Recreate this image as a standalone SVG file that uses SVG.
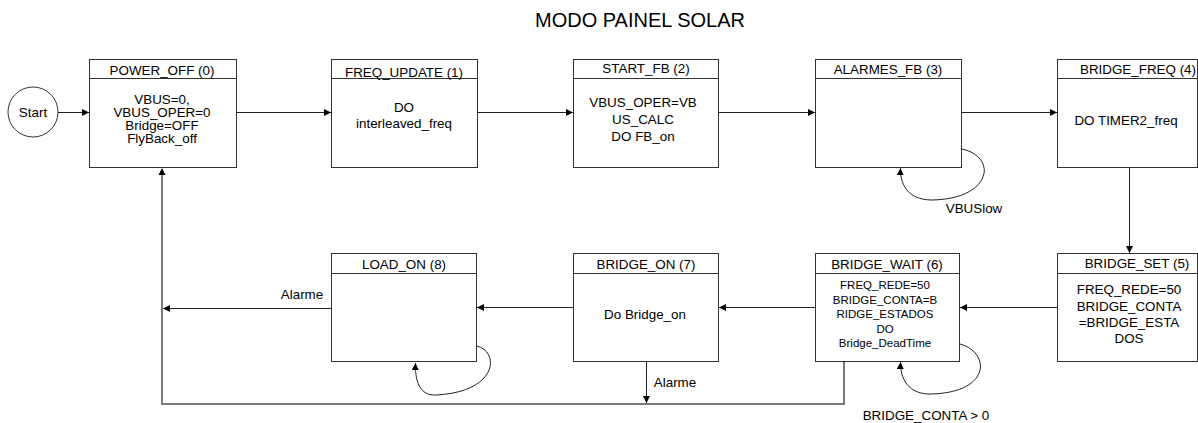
<svg xmlns="http://www.w3.org/2000/svg" width="1198" height="423" viewBox="0 0 1198 423">
<style>
text{font-family:"Liberation Sans",Arial,sans-serif;font-size:13.4px;fill:#000;text-anchor:middle}
.title{font-size:20px}
.small{font-size:11.5px}
.box{fill:#fff;stroke:#333;stroke-width:1}
.hdr{stroke:#333;stroke-width:1}
.ln{fill:none;stroke:#222;stroke-width:1}
.ret{fill:none;stroke:#7a7a7a;stroke-width:2}
</style>
<defs>
<marker id="ah" markerUnits="userSpaceOnUse" markerWidth="8" markerHeight="8" refX="7" refY="3.5" orient="auto">
<path d="M0,0 L7,3.5 L0,7 z" fill="#000"/>
</marker>
</defs>
<text class="title" x="640" y="27">MODO PAINEL SOLAR</text>

<g id="start">
<circle cx="33" cy="112" r="25" fill="#fff" stroke="#333"/>
<text x="33" y="117">Start</text>
</g>

<g id="power_off">
<rect class="box" x="89.5" y="59.5" width="147" height="108"/>
<line class="hdr" x1="89.5" y1="78.5" x2="236.5" y2="78.5"/>
<text x="162" y="75">POWER_OFF (0)</text>
<text x="162" y="104">VBUS=0,</text>
<text x="162" y="117">VBUS_OPER=0</text>
<text x="162" y="130">Bridge=OFF</text>
<text x="162" y="143">FlyBack_off</text>
</g>

<g id="freq_update">
<rect class="box" x="331.5" y="59.5" width="146" height="108"/>
<line class="hdr" x1="331.5" y1="78.5" x2="477.5" y2="78.5"/>
<text x="404" y="77">FREQ_UPDATE (1)</text>
<text x="404" y="112">DO</text>
<text x="404" y="128">interleaved_freq</text>
</g>

<g id="start_fb">
<rect class="box" x="573.5" y="59.5" width="145" height="108"/>
<line class="hdr" x1="573.5" y1="78.5" x2="718.5" y2="78.5"/>
<text x="646" y="73">START_FB (2)</text>
<text x="643" y="107">VBUS_OPER=VB</text>
<text x="643" y="124">US_CALC</text>
<text x="643" y="141">DO FB_on</text>
</g>

<g id="alarmes_fb">
<rect class="box" x="815.5" y="59.5" width="146" height="108"/>
<line class="hdr" x1="815.5" y1="78.5" x2="961.5" y2="78.5"/>
<text x="888" y="74">ALARMES_FB (3)</text>
</g>

<g id="bridge_freq">
<rect class="box" x="1057.5" y="59.5" width="140" height="108"/>
<line class="hdr" x1="1057.5" y1="78.5" x2="1197.5" y2="78.5"/>
<text x="1138" y="74">BRIDGE_FREQ (4)</text>
<text x="1126" y="125">DO TIMER2_freq</text>
</g>

<g id="bridge_set">
<rect class="box" x="1057.5" y="253.5" width="140" height="108"/>
<line class="hdr" x1="1057.5" y1="273.5" x2="1197.5" y2="273.5"/>
<text x="1137" y="268">BRIDGE_SET (5)</text>
<text x="1129" y="294">FREQ_REDE=50</text>
<text x="1129" y="311">BRIDGE_CONTA</text>
<text x="1129" y="327">=BRIDGE_ESTA</text>
<text x="1129" y="343">DOS</text>
</g>

<g id="bridge_wait">
<rect class="box" x="815.5" y="253.5" width="144" height="108"/>
<line class="hdr" x1="815.5" y1="273.5" x2="959.5" y2="273.5"/>
<text x="887" y="269">BRIDGE_WAIT (6)</text>
<text class="small" x="885" y="289">FREQ_REDE=50</text>
<text class="small" x="885" y="304">BRIDGE_CONTA=B</text>
<text class="small" x="885" y="318">RIDGE_ESTADOS</text>
<text class="small" x="885" y="333">DO</text>
<text class="small" x="885" y="347">Bridge_DeadTime</text>
</g>

<g id="bridge_on">
<rect class="box" x="573.5" y="253.5" width="145" height="108"/>
<line class="hdr" x1="573.5" y1="273.5" x2="718.5" y2="273.5"/>
<text x="646" y="269">BRIDGE_ON (7)</text>
<text x="645" y="319">Do Bridge_on</text>
</g>

<g id="load_on">
<rect class="box" x="331.5" y="253.5" width="145" height="108"/>
<line class="hdr" x1="331.5" y1="273.5" x2="476.5" y2="273.5"/>
<text x="404" y="269">LOAD_ON (8)</text>
</g>

<g id="connectors">
<path class="ret" d="M844,362 V404 H162 V170"/>
<path d="M162,168 L158.5,175 L165.5,175 z" fill="#000"/>
<path class="ln" d="M58,112.5 H89" marker-end="url(#ah)"/>
<path class="ln" d="M237,112.5 H331" marker-end="url(#ah)"/>
<path class="ln" d="M478,112.5 H573" marker-end="url(#ah)"/>
<path class="ln" d="M719,112.5 H815" marker-end="url(#ah)"/>
<path class="ln" d="M962,112.5 H1057" marker-end="url(#ah)"/>
<path class="ln" d="M1129.5,168 V253" marker-end="url(#ah)"/>
<path class="ln" d="M1057,307.5 H960" marker-end="url(#ah)"/>
<path class="ln" d="M815,307.5 H719" marker-end="url(#ah)"/>
<path class="ln" d="M573,307.5 H477" marker-end="url(#ah)"/>
<path class="ln" d="M331,308.5 H163" marker-end="url(#ah)"/>
<path class="ln" d="M646.5,362 V403" marker-end="url(#ah)"/>
<path class="ln" d="M962,149 C998,157 992,199 932,200 C906,200 900,182 900.5,168" marker-end="url(#ah)"/>
<path class="ln" d="M477,346 C500,352 498,392 436,395 C418,396 415,378 415.5,363" marker-end="url(#ah)"/>
<path class="ln" d="M960,344 C990,352 992,392 932,394 C908,395 900,378 900.5,362" marker-end="url(#ah)"/>
<text x="974" y="213">VBUSlow</text>
<text x="302" y="299">Alarme</text>
<text x="675" y="387">Alarme</text>
<text x="926" y="420">BRIDGE_CONTA &gt; 0</text>
</g>
</svg>
